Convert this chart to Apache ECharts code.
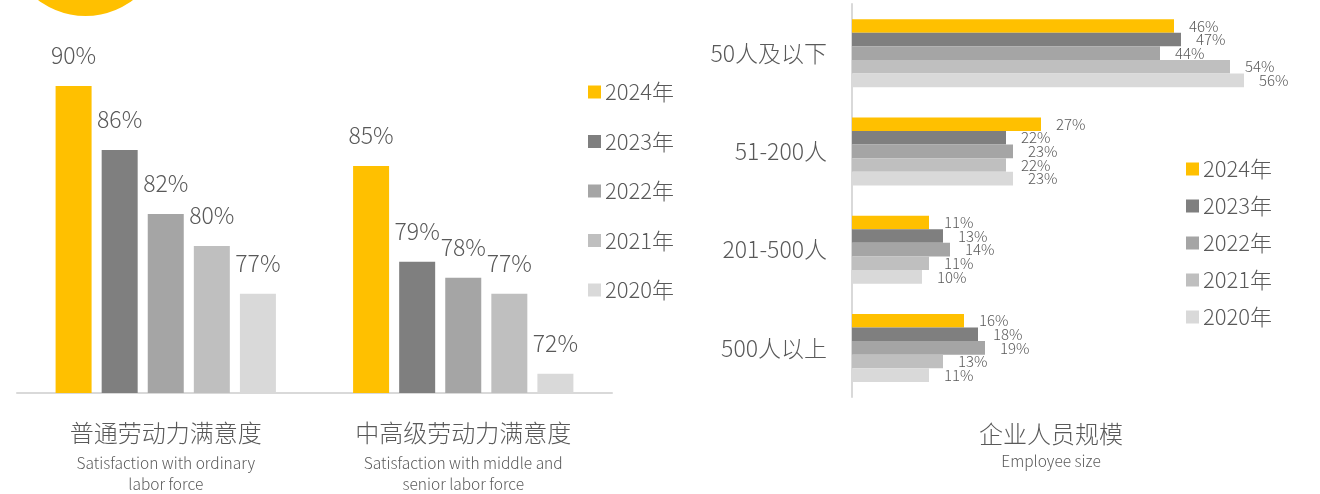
<!DOCTYPE html>
<html>
<head>
<meta charset="utf-8">
<script src="https://cdn.jsdelivr.net/npm/echarts@6/dist/echarts.min.js"></script>
<style>
  html, body { margin: 0; padding: 0; background: #fff; }
  #chart { width: 1320px; height: 494px; }
</style>
</head>
<body>
<div id="chart"></div>
<script>
// legend / series
const years = ['2024年', '2023年', '2022年', '2021年', '2020年'];
const colors = ['#FFC000', '#7F7F7F', '#A5A5A5', '#BFBFBF', '#D9D9D9'];

// left: labor satisfaction (%), one value per year 2024..2020
const laborCats = ['普通劳动力满意度', '中高级劳动力满意度'];
const laborCatsEn = [['Satisfaction with ordinary', 'labor force'], ['Satisfaction with middle and', 'senior labor force']];
const ordinary = [90, 86, 82, 80, 77];
const senior = [85, 79, 78, 77, 72];

// right: employee size (%), per category, top to bottom
const sizeCats = ['50人及以下', '51-200人', '201-500人', '500人以上'];
const size2024 = [46, 27, 11, 16];
const size2023 = [47, 22, 13, 18];
const size2022 = [44, 23, 14, 19];
const size2021 = [54, 22, 11, 13];
const size2020 = [56, 23, 10, 11];
const sizeByYear = [size2024, size2023, size2022, size2021, size2020];

const textColor = '#595959';
const font = '"Noto Sans CJK SC", "Noto Sans", sans-serif';

const chart = echarts.init(document.getElementById('chart'));

const leftSeries = years.map((y, i) => ({
    name: y,
    type: 'bar',
    xAxisIndex: 0,
    yAxisIndex: 0,
    barWidth: 36,
    barGap: '28%',
    itemStyle: {color: colors[i]},
    label: {
        show: true,
        position: 'top',
        distance: 19,
        formatter: '{c}%',
        fontSize: 23,
        fontWeight: 300,
        fontFamily: font,
        color: textColor
    },
    data: [ordinary[i], senior[i]]
}));

const rightSeries = years.map((y, i) => ({
    name: y,
    type: 'bar',
    xAxisIndex: 1,
    yAxisIndex: 1,
    barWidth: 13.6,
    barGap: '0%',
    itemStyle: {color: colors[i]},
    label: {
        show: true,
        position: 'right',
        distance: 15,
        formatter: '{c}%',
        fontSize: 15,
        fontWeight: 300,
        fontFamily: font,
        color: textColor
    },
    data: sizeByYear[i]
}));

const legendBase = {
    orient: 'vertical',
    icon: 'rect',
    itemWidth: 13,
    itemHeight: 13,
    selectedMode: false,
    data: years,
    textStyle: {fontSize: 22, fontWeight: 300, fontFamily: font, color: textColor, padding: [0, 0, 0, -1]}
};

const option = {
    animation: false,
    textStyle: {fontFamily: font},
    graphic: [
        {type: 'circle', shape: {cx: 85.5, cy: -62.5, r: 78.5}, style: {fill: '#FFC000'}, silent: true}
    ],
    title: {
        text: '企业人员规模',
        subtext: 'Employee size',
        left: 1046,
        top: 417,
        textAlign: 'center',
        itemGap: 7,
        textStyle: {fontSize: 24, fontWeight: 300, color: textColor},
        subtextStyle: {fontSize: 15.5, fontWeight: 300, color: textColor}
    },
    legend: [
        Object.assign({}, legendBase, {left: 583, top: 76, itemGap: 27.5}),
        Object.assign({}, legendBase, {left: 1181, top: 153, itemGap: 15})
    ],
    grid: [
        {left: 17, right: 708, top: 22, bottom: 101},
        {left: 852, right: 48, top: 4, bottom: 97}
    ],
    xAxis: [
        {
            type: 'category',
            gridIndex: 0,
            data: laborCats,
            axisTick: {show: false},
            axisLine: {lineStyle: {color: '#D9D9D9', width: 2}},
            axisLabel: {
                margin: 19,
                interval: 0,
                formatter: function (v, i) {
                    return '{a|' + v + '}\n' + laborCatsEn[i].map(s => '{b|' + s + '}').join('\n');
                },
                rich: {
                    a: {fontSize: 24, fontWeight: 300, lineHeight: 41, color: textColor, fontFamily: font},
                    b: {fontSize: 15.5, fontWeight: 300, lineHeight: 21, color: textColor, fontFamily: font}
                }
            }
        },
        {type: 'value', gridIndex: 1, min: 0, max: 60, show: false}
    ],
    yAxis: [
        {type: 'value', gridIndex: 0, min: 70.8, max: 94, show: false},
        {
            type: 'category',
            gridIndex: 1,
            inverse: true,
            data: sizeCats,
            axisTick: {show: false},
            axisLine: {lineStyle: {color: '#D9D9D9', width: 2}},
            axisLabel: {margin: 25, fontSize: 23, fontWeight: 300, color: textColor, fontFamily: font}
        }
    ],
    series: leftSeries.concat(rightSeries)
};

chart.setOption(option);
window.addEventListener('resize', function () {
    chart.resize();
});
</script>
</body>
</html>
